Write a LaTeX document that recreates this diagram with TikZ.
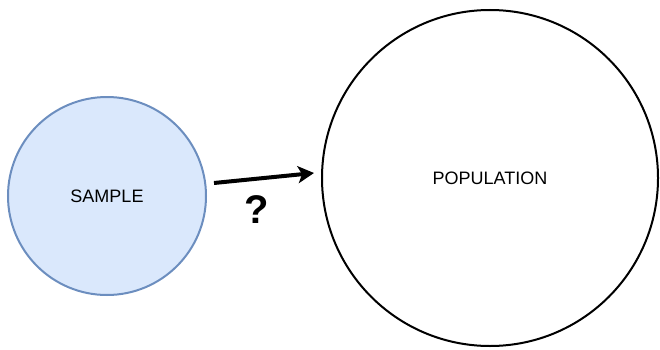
\documentclass[tikz,border=0pt]{standalone}
\usepackage{fontspec}
\setmainfont{Liberation Sans}
\usetikzlibrary{arrows.meta}
\definecolor{sampfill}{HTML}{DAE8FC}
\definecolor{sampline}{HTML}{6C8EBF}
\begin{document}
\begin{tikzpicture}[x=1pt,y=1pt,
  ring/.style={circle,inner sep=0pt,line width=2pt,font=\fontsize{18}{21}\selectfont},
  conn/.style={line width=4pt,-{Stealth[length=16pt,width=17pt,inset=4pt]}}]
\useasboundingbox (0,0) rectangle (660,349);
\node[ring,draw=sampline,fill=sampfill,minimum size=198pt] (s) at (107,153) {SAMPLE};
\node[ring,draw=black,minimum size=336pt] (p) at (490,171) {POPULATION};
\coordinate (a) at (214,166);
\coordinate (b) at (314,176);
\draw[conn] (a) -- (b);
\node[font=\bfseries\fontsize{40}{44}\selectfont] (q) at (257,139) {?};
\end{tikzpicture}
\end{document}
